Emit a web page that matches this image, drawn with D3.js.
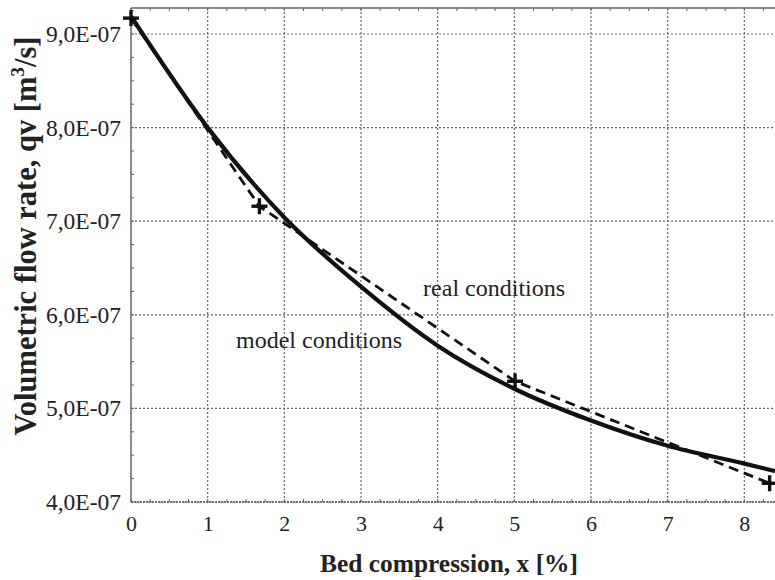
<!DOCTYPE html>
<html><head><meta charset="utf-8">
<script src="https://cdn.jsdelivr.net/npm/d3@7"></script>
<style>
html,body{margin:0;padding:0;background:#fff;}
svg{display:block;}
text{font-family:"Liberation Serif","Times New Roman",serif;fill:#222;}
</style></head>
<body>
<script>
// Data
const modelX = [0, 1, 2, 3, 4, 5, 6, 7, 8, 8.4];
const modelQ = [9.19e-7, 8.00e-7, 7.04e-7, 6.30e-7, 5.67e-7, 5.21e-7, 4.87e-7, 4.60e-7, 4.41e-7, 4.33e-7];
const realX = [0, 1.675, 5.01, 8.33];
const realQ = [9.17e-7, 7.16e-7, 5.29e-7, 4.20e-7];
const xTicks = [0, 1, 2, 3, 4, 5, 6, 7, 8];
const yTicks = [4e-7, 5e-7, 6e-7, 7e-7, 8e-7, 9e-7];
const labels = [
  {text: "real conditions", x: 3.81, q: 6.20e-7},
  {text: "model conditions", x: 1.37, q: 5.65e-7}
];

const W = 775, H = 580;
const L = 131, R = 775, T = 8, B = 502;

const svg = d3.select("body").append("svg").attr("width", W).attr("height", H);
const x = d3.scaleLinear().domain([0, 8.4]).range([L, R]);
const y = d3.scaleLinear().domain([4.0e-7, 9.278e-7]).range([B, T]);

const fmtY = v => (v / 1e-7).toFixed(1).replace(".", ",") + "E-07";

// Grid (dotted)
const grid = svg.append("g").attr("stroke", "#666").attr("stroke-width", 1.2).attr("stroke-dasharray", "2,2");
grid.selectAll("line.v").data(xTicks.filter(d => d > 0)).join("line")
  .attr("x1", d => x(d)).attr("x2", d => x(d)).attr("y1", T).attr("y2", B);
grid.selectAll("line.h").data(yTicks).join("line")
  .attr("x1", L).attr("x2", R).attr("y1", d => y(d)).attr("y2", d => y(d));

// Minor ticks
const xMinor = d3.range(0, 8.41, 0.25);
const yMinor = d3.range(4.0e-7, 9.28e-7, 0.25e-7);
const tk = svg.append("g").attr("stroke", "#666").attr("stroke-width", 1);
tk.selectAll("line.t").data(xMinor).join("line")
  .attr("x1", d => x(d)).attr("x2", d => x(d)).attr("y1", T).attr("y2", T + 3);
tk.selectAll("line.b").data(xMinor).join("line")
  .attr("x1", d => x(d)).attr("x2", d => x(d)).attr("y1", B).attr("y2", B - 3);
tk.selectAll("line.l").data(yMinor).join("line")
  .attr("x1", L).attr("x2", L + 3).attr("y1", d => y(d)).attr("y2", d => y(d));

// Frame
svg.append("line").attr("x1", L).attr("x2", L).attr("y1", T).attr("y2", B).attr("stroke", "#666").attr("stroke-width", 1.5);
svg.append("line").attr("x1", L).attr("x2", R).attr("y1", T).attr("y2", T).attr("stroke", "#666").attr("stroke-width", 1.5);
svg.append("line").attr("x1", L).attr("x2", R).attr("y1", B).attr("y2", B).attr("stroke", "#555").attr("stroke-width", 1.5).attr("stroke-dasharray", "2,1");

// Axes (labels only, via d3 axes)
const xAxis = svg.append("g").attr("transform", `translate(0,${B})`)
  .call(d3.axisBottom(x).tickValues(xTicks).tickFormat(d3.format("d")).tickSize(0).tickPadding(13));
xAxis.select(".domain").remove();
xAxis.selectAll("text").attr("font-size", 22).attr("font-family", "Liberation Serif").attr("fill", "#222");

const yAxis = svg.append("g").attr("transform", `translate(${L},0)`)
  .call(d3.axisLeft(y).tickValues(yTicks).tickFormat(fmtY).tickSize(0).tickPadding(10));
yAxis.select(".domain").remove();
yAxis.selectAll("text").attr("font-size", 23.5).attr("font-family", "Liberation Serif").attr("fill", "#222");

// Lines
svg.append("clipPath").attr("id", "clip").append("rect").attr("x", L).attr("y", 0).attr("width", R - L).attr("height", B);
const plot = svg.append("g").attr("clip-path", "url(#clip)");

const modelData = modelX.map((d, i) => [d, modelQ[i]]);
const realData = realX.map((d, i) => [d, realQ[i]]);

plot.append("path").datum(realData)
  .attr("d", d3.line().x(d => x(d[0])).y(d => y(d[1])))
  .attr("fill", "none").attr("stroke", "#111").attr("stroke-width", 2.8).attr("stroke-dasharray", "10,6");

plot.append("path").datum(modelData)
  .attr("d", d3.line().curve(d3.curveMonotoneX).x(d => x(d[0])).y(d => y(d[1])))
  .attr("fill", "none").attr("stroke", "#111").attr("stroke-width", 4.2);

// Markers "+"
const ms = 8;
const mk = svg.append("g").attr("stroke", "#111").attr("stroke-width", 3.4);
realData.forEach(d => {
  mk.append("line").attr("x1", x(d[0]) - ms).attr("x2", x(d[0]) + ms).attr("y1", y(d[1])).attr("y2", y(d[1]));
  mk.append("line").attr("x1", x(d[0])).attr("x2", x(d[0])).attr("y1", y(d[1]) - ms).attr("y2", y(d[1]) + ms);
});

// Text labels
svg.selectAll("text.lab").data(labels).join("text")
  .attr("class", "lab")
  .attr("x", d => x(d.x)).attr("y", d => y(d.q))
  .attr("font-size", 24).text(d => d.text);

// Axis titles
svg.append("text").attr("x", 449).attr("y", 572).attr("text-anchor", "middle")
  .attr("font-size", 26).attr("font-weight", "bold")
  .attr("textLength", 258).attr("lengthAdjust", "spacingAndGlyphs")
  .text("Bed compression, x [%]");

const yt = svg.append("text").attr("transform", `translate(36,236) rotate(-90)`)
  .attr("text-anchor", "middle").attr("font-size", 30.5).attr("font-weight", "bold");
yt.append("tspan").text("Volumetric flow rate, qv [m");
yt.append("tspan").attr("font-size", 19).attr("dy", -12).text("3");
yt.append("tspan").attr("dy", 12).text("/s]");
</script>
</body></html>
